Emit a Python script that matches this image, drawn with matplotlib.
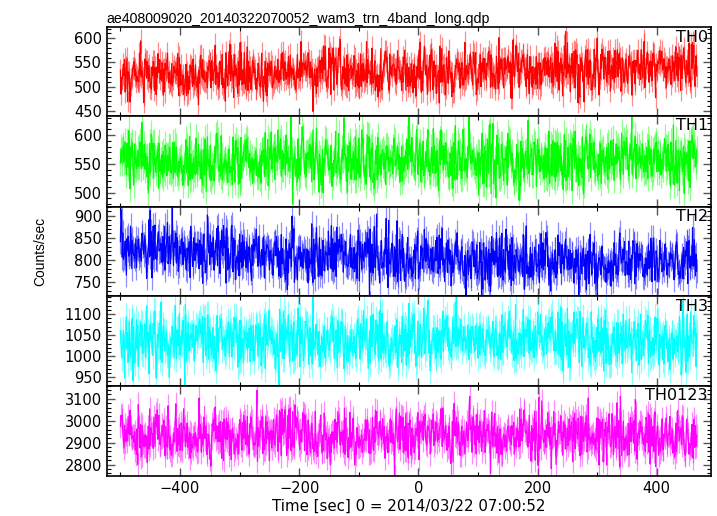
import numpy as np
import matplotlib
matplotlib.use("Agg")
import matplotlib.pyplot as plt
from matplotlib.ticker import MultipleLocator

# ---- data description ----
title = "ae408009020_20140322070052_wam3_trn_4band_long.qdp"
band_names = ["TH0", "TH1", "TH2", "TH3", "TH0123"]
band_colors = ["#ff0000", "#00ff00", "#0000ff", "#00ffff", "#ff00ff"]
t_start, t_stop = -500, 467          # time range of the 1-s bins
# mean count-rate levels read at knot times
knot_times = [-500, -400, -300, -200, -100, 0, 100, 200, 300, 400, 467]
th0_levels = [523, 522, 525, 526, 528, 530, 533, 538, 540, 542, 545]
th1_levels = [555, 555, 556, 556, 555, 556, 557, 556, 556, 557, 556]
th2_levels = [830, 822, 812, 810, 808, 805, 803, 800, 797, 795, 795]
th3_levels = [1035, 1040, 1040, 1040, 1038, 1040, 1042, 1040, 1040, 1042, 1040]
th0123_levels = [2935, 2930, 2930, 2930, 2928, 2930, 2932, 2930, 2930, 2932, 2930]
ylims = [(440, 622.6), (475.7, 633.5), (717.5, 920.5), (930, 1142.6), (2748, 3160)]
major_y = [50, 50, 50, 50, 100]
minor_y = [10, 10, 10, 10, 20]
xlim = (-523, 491)
xlabel = "Time [sec] 0 = 2014/03/22 07:00:52"
ylabel = "Counts/sec"

levels = [th0_levels, th1_levels, th2_levels, th3_levels, th0123_levels]

t = np.arange(t_start, t_stop + 1, 1.0)
rng = np.random.default_rng(408009020)

plt.rcParams["font.family"] = ["DejaVu Sans"]
fig = plt.figure(figsize=(7.17, 5.16), dpi=100)
W, H = 717, 516
left, right = 106.7, 711
tops = [27.3, 115.7, 206.7, 296, 385.7]
bottoms = [115.7, 206.7, 296, 385.7, 476]

axes = []
for i in range(5):
    ax = fig.add_axes([left / W, 1 - bottoms[i] / H, (right - left) / W,
                       (bottoms[i] - tops[i]) / H])
    axes.append(ax)
    mean = np.interp(t, knot_times, levels[i])
    rate = rng.poisson(mean).astype(float)
    rate = mean + 1.1 * (rate - mean)
    err = np.sqrt(rate)
    c = band_colors[i]
    ax.vlines(t, rate - err, rate + err, color=c, alpha=0.45, lw=0.9)
    ax.plot(t, rate, color=c, lw=0.85)
    ax.set_xlim(*xlim)
    ax.set_ylim(*ylims[i])
    ax.yaxis.set_major_locator(MultipleLocator(major_y[i]))
    ax.yaxis.set_minor_locator(MultipleLocator(minor_y[i]))
    ax.xaxis.set_major_locator(MultipleLocator(200))
    ax.xaxis.set_minor_locator(MultipleLocator(100))
    ax.tick_params(which="both", direction="in", top=True, right=True,
                   labelsize=10.5)
    ax.tick_params(which="major", length=6, width=1.0, color="#555555")
    ax.tick_params(which="minor", length=3, width=0.8)
    for s in ax.spines.values():
        s.set_linewidth(1.2)
    if i < 4:
        ax.tick_params(labelbottom=False)
    ax.text(0.995, 0.97, band_names[i], transform=ax.transAxes,
            ha="right", va="top", fontsize=11.5)

axes[0].set_title(title, loc="left", fontsize=10.2, pad=3,
                  family=["Liberation Sans", "DejaVu Sans"])
axes[4].set_xlabel(xlabel, fontsize=10.8, labelpad=2)
fig.text(40 / W, 1 - 251 / H, ylabel, rotation=90, ha="center", va="center",
         fontsize=9.9, family=["Liberation Sans", "DejaVu Sans"])

fig.savefig("out.png", dpi=100)
